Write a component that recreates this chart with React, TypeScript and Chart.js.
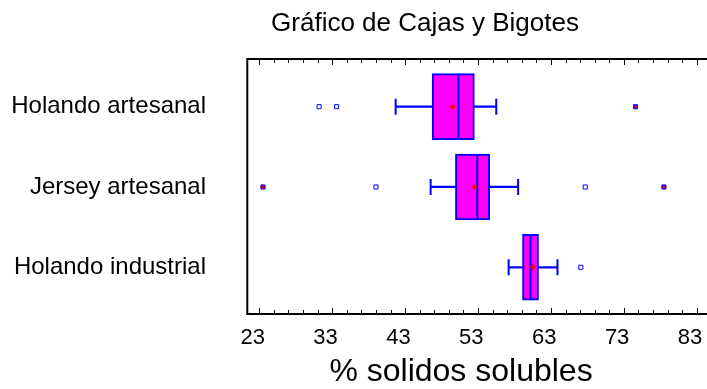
import { useEffect, useRef } from "react";
import { Chart, registerables } from "chart.js";

Chart.register(...registerables);

const FONT = '"Liberation Sans", Arial, Helvetica, sans-serif';

const chartTitle = "Gráfico de Cajas y Bigotes";
const axisTitle = "% solidos solubles";
const categories = ["Holando artesanal", "Jersey artesanal", "Holando industrial"];
const whiskerLow = [41.7, 46.5, 57.2];
const q1 = [46.7, 49.9, 59.1];
const median = [50.3, 52.9, 60.2];
const q3 = [52.5, 54.6, 61.3];
const whiskerHigh = [55.5, 58.5, 63.9];
const means = [49.5, 52.5, 60.5];
const outliers = [[31.2, 33.6], [39.0, 67.7], [67.1]];
const farOutliers = [[74.6], [23.5, 78.5], []];
const majorTicks = [23, 33, 43, 53, 63, 73, 83];
const minorTicks = [23, 25, 27, 29, 31, 33, 35, 37, 39, 41, 43, 45, 47, 49, 51, 53, 55, 57, 59, 61, 63, 65, 67, 69, 71, 73, 75, 77, 79, 81, 83];
const xMin = 21.35;
const xMax = 84.41;
const yMin = -0.594;
const yMax = 2.582;

const BLUE = "#0000FF";
const MAGENTA = "#FF00FF";
const RED = "#FF0000";

export default function App() {
  const ref = useRef<HTMLCanvasElement>(null);

  useEffect(() => {
    document.body.style.margin = "0";
    const canvas = ref.current!;
    const rows = categories.map((_, i) => i);
    const pts = (arrs: number[][]) => arrs.flatMap((a, i) => a.map((v) => ({ x: v, y: i })));

    const framePlugin = {
      id: "frame",
      afterDraw(chart: any) {
        const { ctx, chartArea, scales } = chart;
        const { left, right, top, bottom } = chartArea;
        const xs = scales.x;
        ctx.save();
        ctx.strokeStyle = "#000";
        ctx.lineWidth = 2;
        ctx.beginPath();
        ctx.moveTo(left, top);
        ctx.lineTo(right + 2, top);
        ctx.moveTo(left, top - 1);
        ctx.lineTo(left, bottom + 1);
        ctx.moveTo(left, bottom);
        ctx.lineTo(right + 2, bottom);
        ctx.stroke();
        ctx.lineWidth = 1;
        ctx.beginPath();
        for (const v of minorTicks) {
          const px = Math.round(xs.getPixelForValue(v)) + 0.5;
          const len = majorTicks.includes(v) ? 6 : 4;
          ctx.moveTo(px, top);
          ctx.lineTo(px, top + len);
          ctx.moveTo(px, bottom);
          ctx.lineTo(px, bottom - len);
        }
        ctx.stroke();
        ctx.fillStyle = "#000";
        ctx.textAlign = "center";
        ctx.textBaseline = "alphabetic";
        ctx.font = `26px ${FONT}`;
        ctx.fillText(chartTitle, 425, 31);
        ctx.font = `32px ${FONT}`;
        ctx.fillText(axisTitle, 461, 381);
        ctx.restore();
      },
    };

    const chart = new Chart(canvas, {
      type: "bar",
      data: {
        datasets: [
          {
            type: "scatter",
            label: "mean",
            data: means.map((v, i) => ({ x: v, y: i })),
            pointStyle: "cross",
            pointRadius: 3,
            pointBorderColor: RED,
            pointBorderWidth: 1.5,
            order: 0,
          } as any,
          {
            type: "scatter",
            label: "far outliers mark",
            data: pts(farOutliers),
            pointStyle: "cross",
            pointRadius: 2.5,
            pointBorderColor: RED,
            pointBorderWidth: 1.2,
            order: 1,
          } as any,
          {
            type: "scatter",
            label: "far outliers",
            data: pts(farOutliers),
            pointStyle: "rect",
            pointRadius: 2.9,
            pointBorderColor: BLUE,
            pointBackgroundColor: BLUE,
            pointBorderWidth: 1,
            order: 2,
          } as any,
          {
            type: "scatter",
            label: "outliers",
            data: pts(outliers),
            pointStyle: "rect",
            pointRadius: 2.9,
            pointBorderColor: BLUE,
            pointBackgroundColor: "#FFFFFF",
            pointBorderWidth: 1,
            order: 3,
          } as any,
          {
            type: "scatter",
            label: "median",
            data: median.map((v, i) => ({ x: v, y: i })),
            pointStyle: "line",
            pointRotation: 90,
            pointRadius: 33,
            pointBorderColor: BLUE,
            pointBorderWidth: 2,
            order: 4,
          } as any,
          {
            type: "bar",
            label: "box",
            data: rows.map((i) => ({ x: [q1[i], q3[i]], y: i })),
            backgroundColor: MAGENTA,
            borderColor: BLUE,
            borderWidth: 2,
            borderSkipped: false,
            barThickness: 66,
            grouped: false,
            order: 5,
          } as any,
          {
            type: "scatter",
            label: "caps",
            data: [
              ...rows.map((i) => ({ x: whiskerLow[i], y: i })),
              ...rows.map((i) => ({ x: whiskerHigh[i], y: i })),
            ],
            pointStyle: "line",
            pointRotation: 90,
            pointRadius: 8,
            pointBorderColor: BLUE,
            pointBorderWidth: 2,
            order: 6,
          } as any,
          {
            type: "bar",
            label: "whiskers",
            data: [
              ...rows.map((i) => ({ x: [whiskerLow[i], q1[i]], y: i })),
              ...rows.map((i) => ({ x: [q3[i], whiskerHigh[i]], y: i })),
            ],
            backgroundColor: BLUE,
            borderWidth: 0,
            barThickness: 1.6,
            grouped: false,
            order: 7,
          } as any,
        ],
      },
      options: {
        animation: false,
        responsive: false,
        indexAxis: "y",
        devicePixelRatio: 1,
        layout: { autoPadding: false, padding: { top: 59, left: 0, right: 0, bottom: 0 } },
        plugins: {
          legend: { display: false },
          tooltip: { enabled: false },
          title: { display: false },
        },
        scales: {
          x: {
            type: "linear",
            position: "bottom",
            offset: false,
            min: xMin,
            max: xMax,
            grid: { display: false, drawTicks: false },
            border: { display: false },
            afterBuildTicks: (s: any) => {
              s.ticks = majorTicks.map((v) => ({ value: v }));
            },
            afterFit: (s: any) => {
              s.height = 75;
              s.paddingLeft = 0;
              s.paddingRight = 0;
            },
            ticks: {
              callback: (v: any) => String(v),
              font: { family: FONT, size: 22 },
              color: "#000",
              padding: 10.3,
              labelOffset: -6.7,
              maxRotation: 0,
              autoSkip: false,
            },
          },
          y: {
            type: "linear",
            position: "left",
            offset: false,
            min: yMin,
            max: yMax,
            reverse: true,
            grid: { display: false, drawTicks: false, offset: false },
            border: { display: false },
            afterBuildTicks: (s: any) => {
              s.ticks = rows.map((v) => ({ value: v }));
            },
            afterFit: (s: any) => {
              s.width = 247.3;
              s.paddingTop = 0;
              s.paddingBottom = 0;
            },
            ticks: {
              callback: (v: any) => categories[v] ?? "",
              font: { family: FONT, size: 24 },
              color: "#000",
              padding: 41.3,
              autoSkip: false,
            },
          },
        },
      } as any,
      plugins: [framePlugin],
    });

    return () => chart.destroy();
  }, []);

  return (
    <div style={{ width: 707, height: 389, overflow: "hidden" }}>
      <canvas ref={ref} width={707} height={389} style={{ display: "block" }} />
    </div>
  );
}
